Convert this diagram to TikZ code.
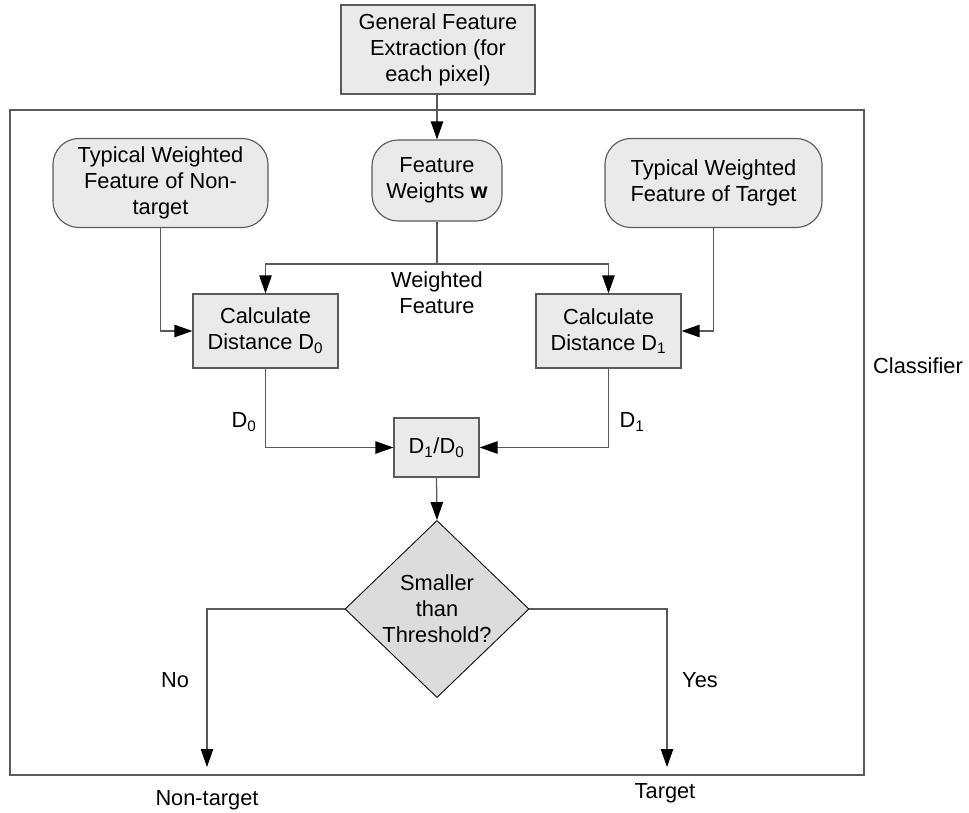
\documentclass[tikz,border=0pt]{standalone}
\usepackage{fontspec}
\setmainfont{Liberation Sans}
\usetikzlibrary{arrows.meta,shapes.geometric}
\definecolor{boxfill}{HTML}{EAEAEA}
\definecolor{diafill}{HTML}{DCDCDC}
\definecolor{linec}{HTML}{5A5A5A}
\begin{document}
\begin{tikzpicture}[x=0.025cm,y=-0.025cm,
  every node/.style={font=\fontsize{15.5}{18.5}\selectfont},
  sqbox/.style={draw=linec,line width=0.8pt,fill=boxfill,align=center,inner sep=1pt},
  rbox/.style={sqbox,rounded corners=0.65cm},
  decide/.style={diamond,draw=black,line width=0.6pt,fill=diafill,align=center,inner sep=0pt,minimum width=4.6cm,minimum height=4.3cm},
  conn/.style={draw=linec,line width=0.9pt},
  arr/.style={conn,-{Triangle[length=0.45cm,width=0.31cm,color=black]}},
  lbl/.style={align=center,inner sep=0pt}]
\useasboundingbox (0,0) rectangle (969,812);
% classifier frame
\draw[draw=linec,line width=0.8pt] (10,110) rectangle (864,775);
% nodes
\node[sqbox,minimum width=4.85cm,minimum height=2.225cm] (top) at (438,49.5) {General Feature\\Extraction (for\\each pixel)};
\node[rbox,minimum width=3.25cm,minimum height=2.025cm] (fw) at (437,180.5) {Feature\\Weights \textbf{w}};
\node[rbox,minimum width=5.375cm,minimum height=2.225cm] (tnt) at (160.5,183) {Typical Weighted\\Feature of Non-\\target};
\node[rbox,minimum width=5.425cm,minimum height=2.225cm] (tt) at (713.5,183) {Typical Weighted\\Feature of Target};
\node[sqbox,minimum width=3.625cm,minimum height=1.85cm] (d0) at (265.5,331) {Calculate\\Distance D\textsubscript{0}};
\node[sqbox,minimum width=3.625cm,minimum height=1.85cm] (d1) at (608.5,331) {Calculate\\Distance D\textsubscript{1}};
\node[sqbox,minimum width=2.125cm,minimum height=1.475cm] (ratio) at (436.5,447.5) {D\textsubscript{1}/D\textsubscript{0}};
\node[decide] (dia) at (437,609) {Smaller\\than\\Threshold?};
% labels
\node[lbl] (wf) at (437,293) {Weighted\\Feature};
\node[lbl] (l0) at (244,422) {D\textsubscript{0}};
\node[lbl] (l1) at (632,422) {D\textsubscript{1}};
\node[lbl] (no) at (175,680) {No};
\node[lbl] (yes) at (700,680) {Yes};
\node[lbl] (ntl) at (207,800) {Non-target};
\node[lbl] (tgl) at (665,793) {Target};
\node[lbl] (cls) at (918,366) {Classifier};
% coordinates
\coordinate (j) at (437,264);
\coordinate (ntend) at (207,767);
\coordinate (tgend) at (667,767);
% connectors
\draw[arr] (fw.north |- top.south) -- (fw.north);
\draw[conn] (fw.south) -- (j);
\draw[arr] (j) -| (d0.north);
\draw[arr] (j) -| (d1.north);
\draw[arr] (tnt.south) |- (d0.west);
\draw[arr] (tt.south) |- (d1.east);
\draw[arr] (d0.south) |- (ratio.west);
\draw[arr] (d1.south) |- (ratio.east);
\draw[arr] (ratio.south) -- (dia.north);
\draw[arr] (dia.west) -| (ntend);
\draw[arr] (dia.east) -| (tgend);
\end{tikzpicture}
\end{document}
